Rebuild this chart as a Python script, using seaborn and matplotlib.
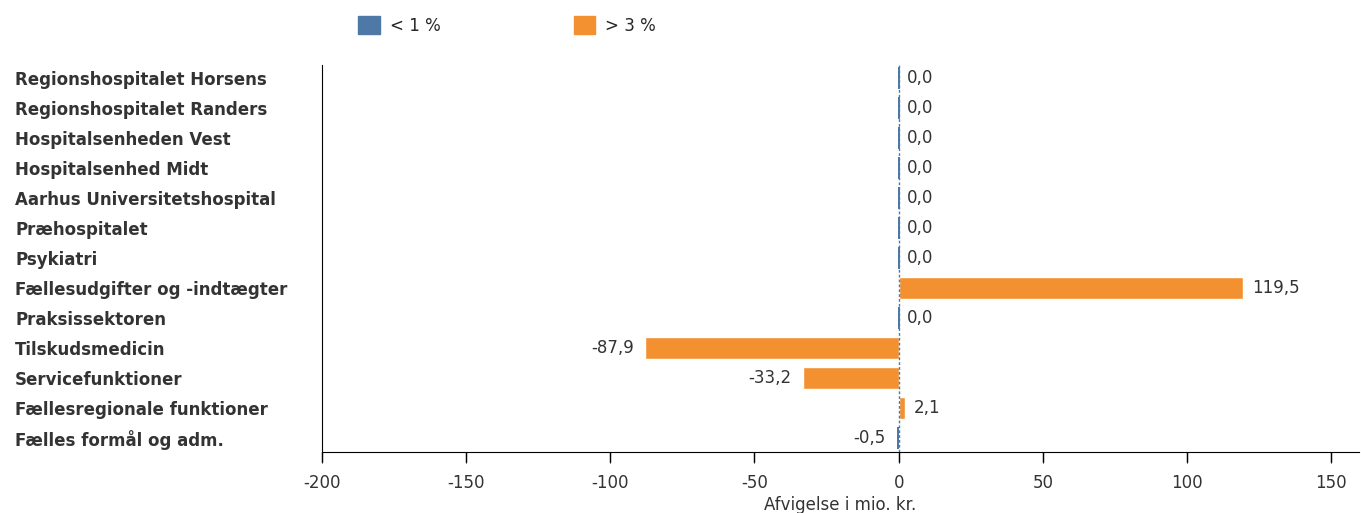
import matplotlib
matplotlib.use("Agg")
import matplotlib.pyplot as plt
import matplotlib.patches as mpatches
import pandas as pd
import seaborn as sns

# data
units = ['Regionshospitalet Horsens', 'Regionshospitalet Randers', 'Hospitalsenheden Vest',
         'Hospitalsenhed Midt', 'Aarhus Universitetshospital', 'Præhospitalet', 'Psykiatri',
         'Fællesudgifter og -indtægter', 'Praksissektoren', 'Tilskudsmedicin',
         'Servicefunktioner', 'Fællesregionale funktioner', 'Fælles formål og adm.']
deviation = [0.0, 0.0, 0.0, 0.0, 0.0, 0.0, 0.0, 119.5, 0.0, -87.9, -33.2, 2.1, -0.5]
group = ['< 1 %'] * 7 + ['> 3 %', '< 1 %', '> 3 %', '> 3 %', '> 3 %', '< 1 %']
xticks = [-200, -150, -100, -50, 0, 50, 100, 150]

colors = {'< 1 %': '#4e79a7', '> 3 %': '#f39130'}
df = pd.DataFrame({'unit': units, 'dev': deviation, 'group': group})

sns.set_style('white', {'xtick.bottom': True})
plt.rcParams['font.family'] = 'sans-serif'
plt.rcParams['font.sans-serif'] = ['DejaVu Sans']
plt.rcParams['axes.unicode_minus'] = False

fig = plt.figure(figsize=(13.61, 5.13), dpi=100)
ax = fig.add_axes([0.2366, 0.119, 0.762, 0.754])

sns.barplot(data=df, x='dev', y='unit', hue='group', palette=colors, dodge=False,
            orient='h', width=0.73, saturation=1, legend=False, ax=ax)
# thin marks for the near-zero bars
for i, (v, g) in enumerate(zip(deviation, group)):
    if abs(v) < 1:
        ax.add_patch(mpatches.Rectangle((-0.3 if v >= 0 else v, i - 0.365),
                                        max(abs(v), 0.6), 0.73, color=colors[g], lw=0))

ax.axvline(0, color='#4e79a7', ls=(0, (2, 1.5)), lw=1)

for i, v in enumerate(deviation):
    txt = f'{v:.1f}'.replace('.', ',')
    if v < 0:
        ax.text(v - 4, i, txt, ha='right', va='center', fontsize=12, color='#333333')
    else:
        ax.text(v + 3, i, txt, ha='left', va='center', fontsize=12, color='#333333')

ax.set_xlim(-200, 159.7)
ax.set_ylim(12.47, -0.43)
ax.set_xticks(xticks)
# tick marks below the axis
ax.vlines(xticks, 0, -0.025, transform=ax.get_xaxis_transform(), color='black',
          lw=1, clip_on=False)
ax.set_xlabel('Afvigelse i mio. kr.', fontsize=12, color='#333333', labelpad=3)
ax.set_ylabel('')
ax.tick_params(axis='x', length=8, labelsize=12, labelcolor='#333333', pad=8)
ax.tick_params(axis='y', length=0, labelsize=12, pad=221)
for lab in ax.get_yticklabels():
    lab.set_fontweight('bold')
    lab.set_color('#333333')
    lab.set_ha('left')
for s in ['top', 'right']:
    ax.spines[s].set_visible(False)
ax.spines['left'].set_color('black')
ax.spines['bottom'].set_color('black')

handles = [mpatches.Patch(color=colors[k], label=k) for k in colors]
fig.legend(handles=handles, loc='center left', bbox_to_anchor=(0.252, 0.95), ncol=2,
           frameon=False, fontsize=12, handlelength=1.3, handleheight=1.3,
           columnspacing=8, handletextpad=0.6)

fig.savefig('out.png', dpi=100)
